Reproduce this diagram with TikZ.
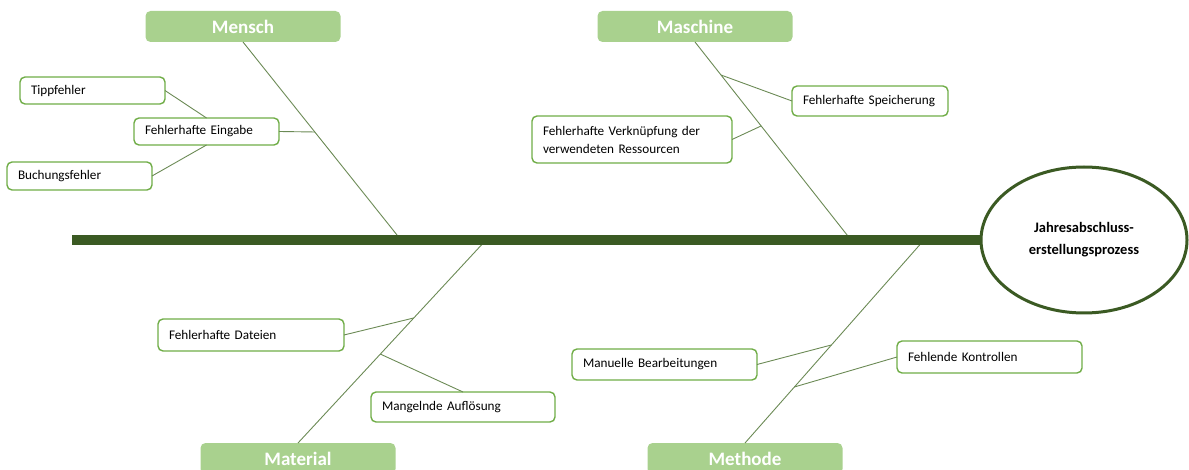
\documentclass[tikz,border=0pt]{standalone}
\usepackage{fontspec}
\setmainfont{Carlito}
\usetikzlibrary{shapes.geometric,calc}
\definecolor{spinegreen}{HTML}{3B5A23}
\definecolor{headfill}{HTML}{A9D18E}
\definecolor{boxline}{HTML}{70AD47}
\definecolor{boneline}{HTML}{6B8A55}
\begin{document}
\begin{tikzpicture}[x=1pt,y=-1pt,
  category/.style={fill=headfill, rounded corners=5pt, minimum width=195pt,
    minimum height=31pt, inner sep=0pt, outer sep=0pt, text=white,
    font=\bfseries\fontsize{19}{21}\selectfont},
  cause/.style={draw=boxline, line width=1.4pt, fill=white, rounded corners=5pt,
    anchor=north west, align=left, inner xsep=11pt, inner ysep=0pt, outer sep=0pt,
    font=\fontsize{13.2}{18}\selectfont},
  bone/.style={draw=boneline, line width=0.9pt},
  twig/.style={draw=boneline, line width=0.9pt}]

\useasboundingbox (0,0) rectangle (1189,470);
\clip (0,0) rectangle (1189,470);

% goal of the fishbone
\node[ellipse, draw=spinegreen, line width=3pt, fill=white, minimum width=206pt,
  minimum height=146pt, align=center, inner sep=0pt,
  font=\bfseries\fontsize{14.5}{22}\selectfont] (goal) at (1084,240)
  {Jahresabschluss-\\erstellungsprozess};

% category headers
\node[category] (mensch)   at (243,26.5)  {Mensch};
\node[category] (maschine) at (695,26.5)  {Maschine};
\node[category] (material) at (298,458.5) {Material};
\node[category] (methode)  at (745,458.5) {Methode};

% where the bones meet the spine
\coordinate (jmensch)   at (401,240);
\coordinate (jmaschine) at (851,240);
\coordinate (jmaterial) at (486,240);
\coordinate (jmethode)  at (924,240);

% main bones
\draw[bone] (mensch.south)   -- (jmensch);
\draw[bone] (maschine.south) -- (jmaschine);
\draw[bone] (material.north) -- (jmaterial);
\draw[bone] (methode.north)  -- (jmethode);

% spine
\draw[spinegreen, line width=10pt] (72,240) -- (goal.west);

% attachment points on the bones
\coordinate (pEingabe)    at ($(mensch.south)!0.4545!(jmensch)$);
\coordinate (pSpeicher)   at ($(maschine.south)!0.1667!(jmaschine)$);
\coordinate (pVerkn)      at ($(maschine.south)!0.424!(jmaschine)$);
\coordinate (pDateien)    at ($(material.north)!0.616!(jmaterial)$);
\coordinate (pAufloesung) at ($(material.north)!0.438!(jmaterial)$);
\coordinate (pManuell)    at ($(methode.north)!0.483!(jmethode)$);
\coordinate (pKontrolle)  at ($(methode.north)!0.276!(jmethode)$);

% causes
\node[cause, text width=123pt, minimum height=27pt] (tipp)     at (20,77)   {Tippfehler};
\node[cause, text width=123pt, minimum height=27pt] (eingabe)  at (134,118) {Fehlerhafte Eingabe};
\node[cause, text width=123pt, minimum height=28pt] (buchung)  at (7,162)   {Buchungsfehler};
\node[cause, text width=134pt, minimum height=30pt] (speicher) at (792,86)  {Fehlerhafte Speicherung};
\node[cause, text width=178pt, minimum height=47pt] (verkn)    at (532,116) {Fehlerhafte Verknüpfung der\\verwendeten Ressourcen};
\node[cause, text width=164pt, minimum height=32pt] (dateien)  at (158,319) {Fehlerhafte Dateien};
\node[cause, text width=162pt, minimum height=30pt] (aufl)     at (371,392) {Mangelnde Auflösung};
\node[cause, text width=163pt, minimum height=31pt] (manuell)  at (572,349) {Manuelle Bearbeitungen};
\node[cause, text width=163pt, minimum height=32pt] (kontr)    at (897,341) {Fehlende Kontrollen};

% twigs
\draw[twig] (tipp.east)     -- (eingabe.north);
\draw[twig] (buchung.east)  -- (eingabe.south);
\draw[twig] (eingabe.east)  -- (pEingabe);
\draw[twig] (speicher.west) -- (pSpeicher);
\draw[twig] (verkn.east)    -- (pVerkn);
\draw[twig] (dateien.east)  -- (pDateien);
\draw[twig] (aufl.north)    -- (pAufloesung);
\draw[twig] (manuell.east)  -- (pManuell);
\draw[twig] (kontr.west)    -- (pKontrolle);
\end{tikzpicture}
\end{document}
